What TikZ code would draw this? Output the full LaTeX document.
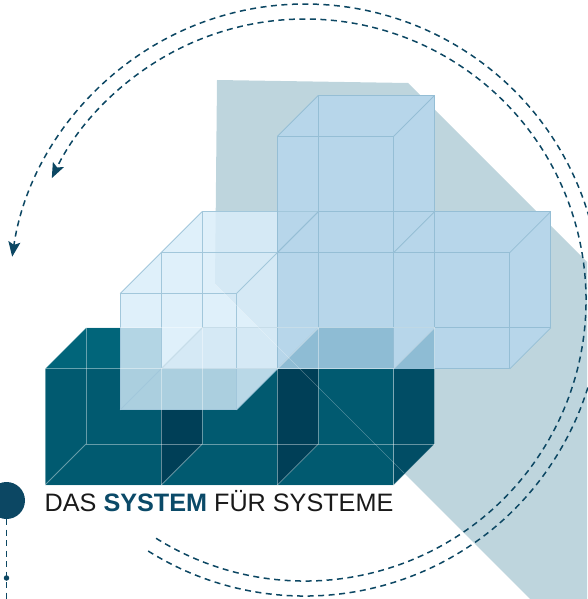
\documentclass[tikz,border=0pt]{standalone}
\usepackage{fontspec}
\setmainfont{Liberation Sans}
\usepackage{tkz-euclide}
\usetikzlibrary{arrows.meta,calc}
\definecolor{PlaneClr}{HTML}{BED5DD}
\definecolor{ArcClr}{HTML}{0C4763}
\definecolor{TitleClr}{HTML}{0B4A68}
\definecolor{DarkClr}{HTML}{015A70}
\definecolor{DarkTopClr}{HTML}{01657A}
\definecolor{DarkSideClr}{HTML}{014D65}
\definecolor{DarkWallClr}{HTML}{003F57}
\definecolor{PaleClr}{HTML}{DFF0FA}
\definecolor{PalePlaneClr}{HTML}{D5E9F5}
\definecolor{PaleTopClr}{HTML}{B3D5E4}
\definecolor{PaleFrontClr}{HTML}{ABCFDF}
\definecolor{PaleSideClr}{HTML}{B9D8E7}
\definecolor{PaleEdgeClr}{HTML}{A2C7DB}
\definecolor{BlueClr}{HTML}{B7D6EA}
\definecolor{BlueDarkClr}{HTML}{8EBCD4}
\definecolor{BlueEdgeClr}{HTML}{95BED5}

\begin{document}
\begin{tikzpicture}[x=1pt,y=-1pt,
  flow/.style={ArcClr,line width=1.5pt,dash pattern=on 6pt off 4.5pt},
  flowtip/.style={-{Stealth[length=15pt,width=12pt,inset=3pt]}},
  darkedge/.style={white,opacity=.4,line width=.8pt},
  paleedge/.style={PaleEdgeClr,line width=.8pt},
  blueedge/.style={BlueEdgeClr,line width=.8pt}]
\useasboundingbox (0,0) rectangle (587,599);

% cube corners P<column><level><depth>
\foreach \i in {0,...,4}{
\foreach \h in {0,...,3}{
\foreach \z in {0,1,2}{
\coordinate (P\i\h\z) at ({45+116.2*\i+41*(\z-1)},{485-116.2*\h-41*(\z-1)});
}}}

\tkzDefPoints{217/80/Q1,408/83/Q2,587/262/Q3,587/599/Q4,530/599/Q5,215/284/Q6}
\tkzDefPoint(305,300){O}

\tkzFillPolygon[fill=PlaneClr](Q1,Q2,Q3,Q4,Q5,Q6)

\draw[flow,flowtip] ($(O)+(122:296)$) arc[start angle=122,end angle=-171.6,radius=296];
\draw[flow,flowtip] ($(O)+(122:281)$) arc[start angle=122,end angle=-154.3,radius=281];

\node[circle,fill=ArcClr,minimum size=37pt,inner sep=0pt] (dot) at (6.5,500.5) {};
\node[circle,fill=ArcClr,minimum size=5.5pt,inner sep=0pt] (tick) at (6.5,578) {};
\coordinate (end) at (6.5,599);
\draw[flow] (dot.south) -- (end);

% dark row
\tkzFillPolygon[fill=DarkClr](P001,P301,P311,P011)
\tkzFillPolygon[fill=DarkTopClr](P011,P311,P312,P012)
\tkzFillPolygon[fill=DarkSideClr](P301,P311,P312,P302)
\tkzFillPolygon[fill=DarkWallClr](P101,P111,P112,P102)
\tkzFillPolygon[fill=DarkWallClr](P201,P211,P212,P202)

% pale box
\tkzFillPolygon[fill=PaleClr](P110,P210,P212,P222,P122,P120)
\begin{scope}
\clip (Q1)--(Q2)--(Q3)--(Q4)--(Q5)--(Q6)--cycle;
\tkzFillPolygon[fill=PalePlaneClr](P110,P210,P212,P222,P122,P120)
\end{scope}
\tkzFillPolygon[fill=PalePlaneClr](P111,P211,P212,P112)
\coordinate (A1) at (P110 |- P012);
\coordinate (A2) at (P110 |- P011);
\coordinate (A3) at (P111 |- P012);
\coordinate (A4) at (P210 |- P011);
\tkzFillPolygon[fill=PaleTopClr](A2,P111,A3,A1)
\tkzFillPolygon[fill=PaleFrontClr](P110,P210,A4,A2)
\tkzFillPolygon[fill=PaleSideClr](P210,P211,A4)

% blue cubes
\tkzFillPolygon[fill=BlueClr](P211,P411,P412,P422,P322,P332,P232,P231)
\coordinate (B1) at (P311 |- P212);
\coordinate (B2) at (P312 |- P311);
\tkzFillPolygon[fill=BlueDarkClr](P211,P212,B1,P311,P312,B2)

\foreach \z in {0,1,2}
  \draw[paleedge] (P11\z)--(P21\z)--(P22\z)--(P12\z)--cycle;
\foreach \i/\h in {1/1,2/1,1/2,2/2}
  \draw[paleedge] (P\i\h0)--(P\i\h2);

\foreach \z in {1,2}{
  \draw[blueedge] (P21\z)--(P41\z)--(P42\z)--(P22\z)--cycle;
  \draw[blueedge] (P22\z)--(P32\z)--(P33\z)--(P23\z)--cycle;
  \draw[blueedge] (P31\z)--(P32\z);
}
\foreach \i/\h in {2/1,3/1,4/1,2/2,3/2,4/2,2/3,3/3}
  \draw[blueedge] (P\i\h1)--(P\i\h2);

\foreach \z in {1,2}{
  \draw[darkedge] (P00\z)--(P30\z)--(P31\z)--(P01\z)--cycle;
  \foreach \i in {1,2} \draw[darkedge] (P\i0\z)--(P\i1\z);
}
\foreach \i in {0,...,3}{
  \draw[darkedge] (P\i01)--(P\i02);
  \draw[darkedge] (P\i11)--(P\i12);
}
\draw[white,opacity=.3,line width=.5pt] (Q6) -- ($(Q6)!0.6!(Q5)$);

\node[anchor=base west,inner sep=0pt,text=black!90,font=\fontsize{25.2}{30}\selectfont] (title) at (44.5,511)
  {DAS \textbf{\textcolor{TitleClr}{SYSTEM}} FÜR SYSTEME};
\end{tikzpicture}
\end{document}
